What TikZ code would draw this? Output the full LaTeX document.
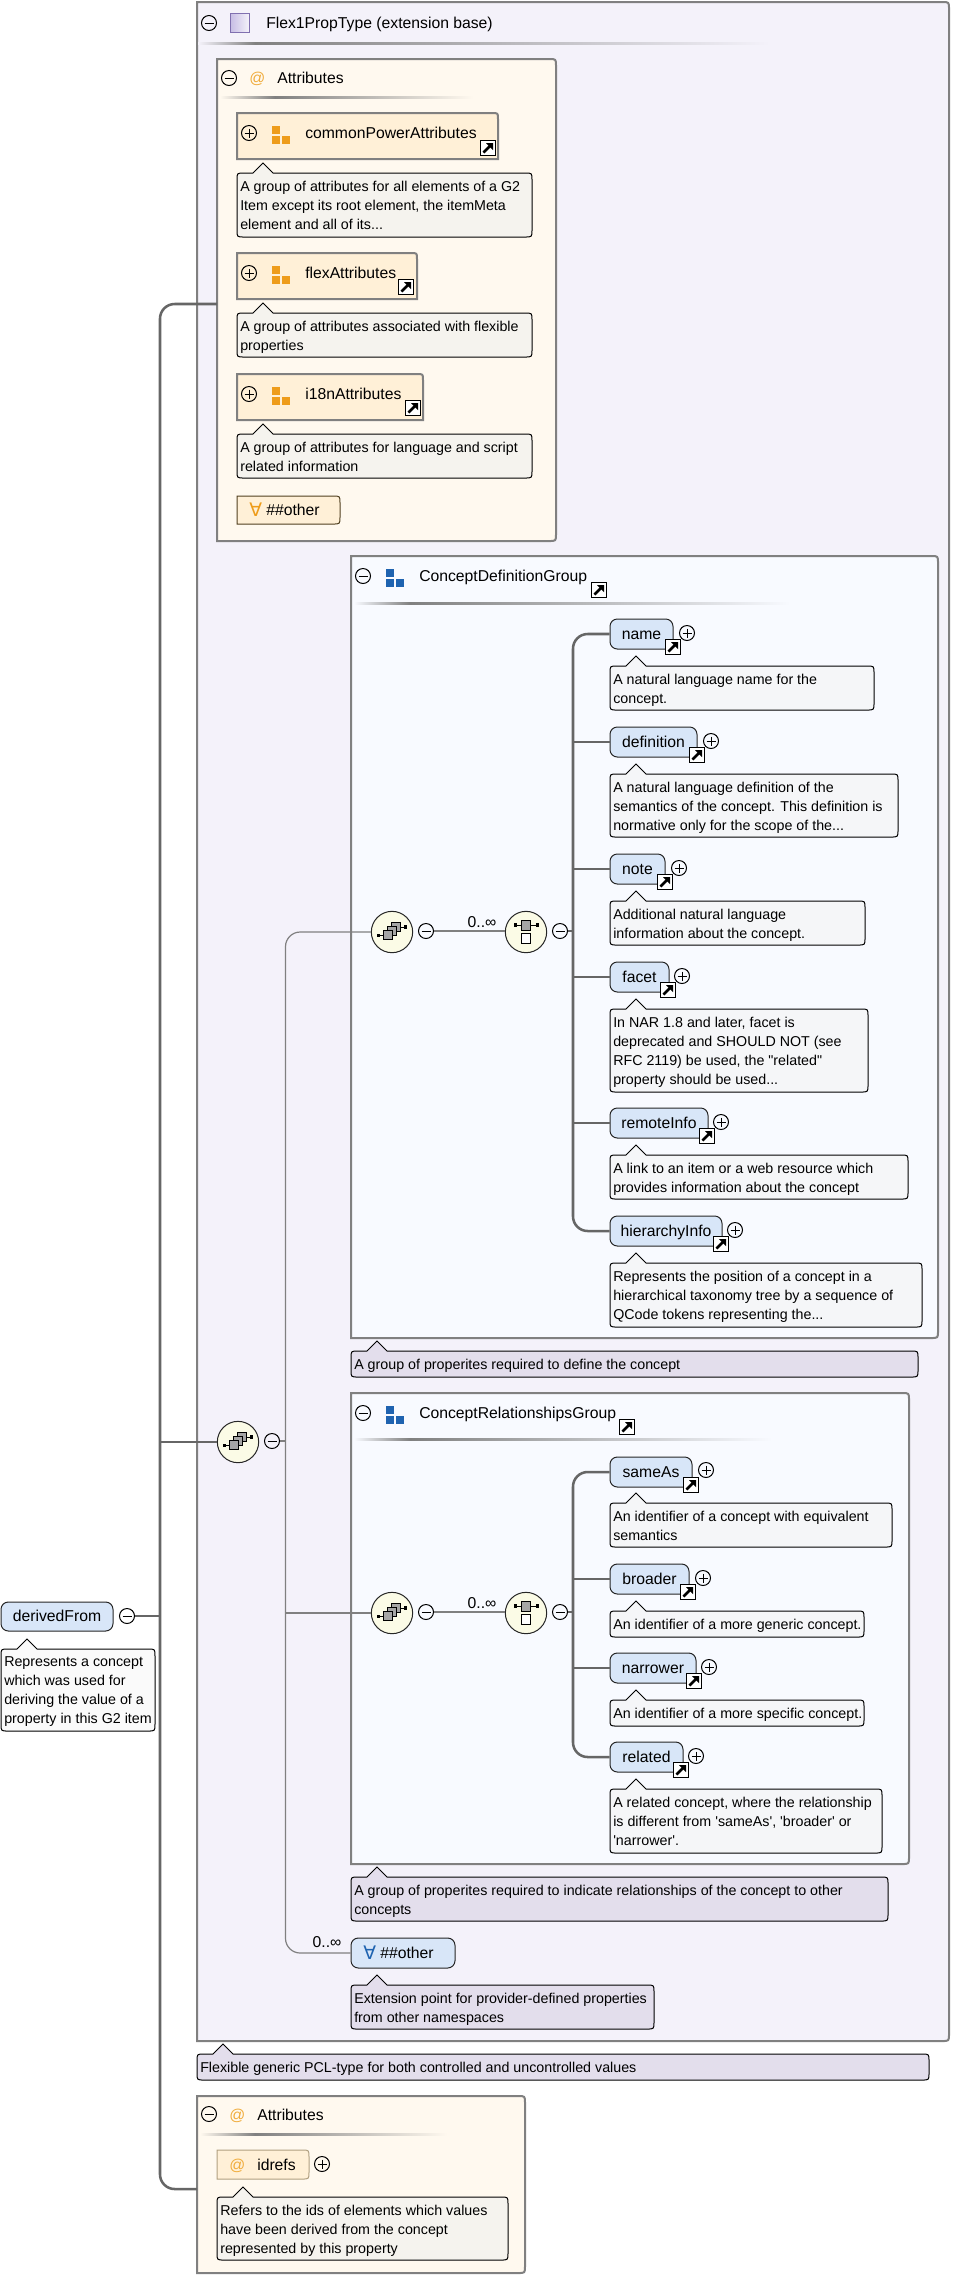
\documentclass[tikz,border=0pt]{standalone}
\usepackage{fontspec}
\usetikzlibrary{fit}
\newfontfamily\lib{Liberation Sans}
\newfontfamily\symf{DejaVu Sans}
\definecolor{bordergray}{HTML}{808080}
\definecolor{busgray}{HTML}{666666}
\definecolor{outerfill}{HTML}{F4F2FA}
\definecolor{attrfill}{HTML}{FFF9EF}
\definecolor{groupfill}{HTML}{F8FAFF}
\definecolor{elemfill}{HTML}{D8E6F8}
\definecolor{attelem}{HTML}{FFF0D7}
\definecolor{annA}{HTML}{F5F3EE}
\definecolor{annB}{HTML}{F5F6F8}
\definecolor{annP}{HTML}{E3DEEC}
\definecolor{annW}{HTML}{FAFAFA}
\definecolor{orangeicon}{HTML}{EE9C1A}
\definecolor{atcol}{HTML}{F0AC3C}
\definecolor{blueicon}{HTML}{1F63B0}
\definecolor{compfill}{HTML}{FBFBE6}
\definecolor{glyphgray}{HTML}{A6A6A6}
\definecolor{typeA}{HTML}{C6BCE4}
\definecolor{typeB}{HTML}{F4F2FA}
\definecolor{typeline}{HTML}{8070B0}
\definecolor{idline}{HTML}{B0A080}
\definecolor{othline}{HTML}{504020}
\tikzset{
  lbl/.style={font=\lib\fontsize{11.8}{14}\selectfont,inner sep=0pt,text height=10.4pt,text depth=2.4pt,text=black},
  framebox/.style={draw=bordergray,line width=1.5pt},
  annottext/.style={font=\lib\fontsize{10.7}{14.25}\selectfont,align=left,inner sep=0pt,text=black},
  annotshape/.style={draw=black,line width=.75pt},
  elembox/.style={lbl,draw=black!85,line width=.75pt,fill=elemfill,rounded corners=5.5pt},
  btnshape/.style={draw=black,line width=.75pt,circle,inner sep=0pt,minimum size=11.25pt},
  bus/.style={draw=busgray,line width=1.9pt},
  thinline/.style={draw=bordergray,line width=.9pt},
  comp/.style={draw=black!85,line width=.75pt,circle,inner sep=0pt,minimum size=31pt,fill=compfill},
  forall/.style={font=\symf\fontsize{14}{14}\selectfont,inner sep=0pt,anchor=west},
}
% right-rounded box
\newcommand\rbox[7]{% style,name,x1,y1,x2,y2,radius
  \draw[#1] (#3,#4) -- ({#5-#7},#4) .. controls (#5,#4) .. (#5,{#4+#7}) -- (#5,{#6-#7}) .. controls (#5,#6) .. ({#5-#7},#6) -- (#3,#6) -- cycle;
  \node[fit={(#3,#4)(#5,#6)},inner sep=0pt] (#2) {};}
% top-right-rounded box
\newcommand\tbox[7]{%
  \draw[#1] (#3,#4) -- ({#5-#7},#4) .. controls (#5,#4) .. (#5,{#4+#7}) -- (#5,#6) -- (#3,#6) -- cycle;
  \node[fit={(#3,#4)(#5,#6)},inner sep=0pt] (#2) {};}
\newcommand\annot[7]{% fill,name,x1,y1,x2,y2,lines
  \draw[annotshape,fill=#1] ({#3+36},#4) -- ({#5-7},#4) .. controls (#5,#4) .. (#5,{#4+7}) -- (#5,{#6-7}) .. controls (#5,#6) .. ({#5-7},#6) -- ({#3+7},#6) .. controls (#3,#6) .. (#3,{#6-7}) -- (#3,{#4+7}) .. controls (#3,#4) .. ({#3+7},#4) -- ({#3+16},#4) -- ({#3+26},{#4-10}) -- cycle;
  \node[annottext,anchor=north west] (#2) at ({#3+3},{#4+7.7}) {#7};}
\newcommand\elem[6]{% name,x1,y1,x2,y2,text
  \node[elembox,inner sep=0pt,minimum width={(#4-#2)*.75pt},minimum height={(#5-#3)*.75pt}] (#1) at ({(#2+#4)/2},{(#3+#5)/2}) {#6};}
\newcommand\mbtn[3]{\node[btnshape] (#1) at (#2,#3) {};
  \draw[line width=.75pt] ({#2-4.5},#3) -- ({#2+4.5},#3);}
\newcommand\pbtn[3]{\node[btnshape] (#1) at (#2,#3) {};
  \draw[line width=.75pt] ({#2-4.5},#3) -- ({#2+4.5},#3) ({#2},{#3-4.5}) -- ({#2},{#3+4.5});}
\newcommand\linkicon[2]{% top-left x,y
  \draw[fill=white,line width=.75pt] (#1,#2) rectangle ({#1+15},{#2+15});
  \fill[black] ({#1+6},{#2+3}) -- ({#1+13},{#2+3}) -- ({#1+13},{#2+10}) -- cycle;
  \draw[line width=2pt] ({#1+10},{#2+6}) -- ({#1+3.5},{#2+12.5});}
\newcommand\gicon[3]{% colour,x,y
  \fill[#1] (#2,#3) rectangle ({#2+8},{#3+8});
  \fill[#1] (#2,{#3+10}) rectangle ({#2+8},{#3+18});
  \fill[#1] ({#2+10},{#3+10}) rectangle ({#2+18},{#3+18});}
\newcommand\sepline[5]{% y,x1,xdark,x2,bg
  \shade[left color=#5,right color=bordergray] (#2,{#1-1}) rectangle (#3,{#1+1});
  \shade[left color=bordergray,right color=#5] (#3,{#1-1}) rectangle (#4,{#1+1});}
\newcommand\choicec[3]{%
  \node[comp] (#1) at (#2,#3) {};
  \begin{scope}[shift={(#2,#3)}]
  \draw[line width=.75pt] (-13.7,3.3) -- (-8,3.3) (8,-5) -- (13.3,-5);
  \fill (-15.5,1.5) rectangle (-12,5); \fill (11.7,-6.8) rectangle (15.2,-3.2);
  \draw[fill=glyphgray,line width=.6pt] (-.7,-9.7) rectangle (8.7,-.3);
  \draw[fill=glyphgray,line width=.6pt] (-4.7,-5.7) rectangle (4.7,3.7);
  \draw[fill=glyphgray,line width=.6pt] (-8.7,-1.7) rectangle (.7,7.7);
  \end{scope}}
\newcommand\seqc[3]{%
  \node[comp] (#1) at (#2,#3) {};
  \begin{scope}[shift={(#2,#3)}]
  \draw[line width=.75pt] (-10.7,-7) -- (11.3,-7);
  \fill (-12.5,-8.8) rectangle (-9,-5.2); \fill (9.5,-8.8) rectangle (13,-5.2);
  \draw[fill=glyphgray,line width=.6pt] (-4.7,-11.5) rectangle (4.7,-2);
  \draw[fill=white,line width=.6pt] (-4.7,1.5) rectangle (4.7,11);
  \end{scope}}
\begin{document}
\begin{tikzpicture}[x=.75pt,y=-.75pt]
\useasboundingbox (0,0) rectangle (974,2275);
\fill[white] (0,0) rectangle (974,2275);

% ---- outer extension base
\rbox{framebox,fill=outerfill}{outer}{197}{2}{949}{2041}{7}
\mbtn{outerm}{209}{23}
\shade[left color=typeA,right color=typeB] (230,13) rectangle (249,32);
\draw[draw=typeline,line width=.6pt] (230,13) rectangle (249,32);
\node[lbl,anchor=west] (outert) at (266,23) {Flex1PropType (extension base)};
\sepline{43}{198}{255}{770}{outerfill}

% ---- Attributes (inner)
\rbox{framebox,fill=attrfill}{attrA}{217}{59}{556}{541}{7}
\mbtn{attrAm}{229}{78}
\node[lbl,anchor=west,text=atcol] (attrAat) at (249,78) {@};
\node[lbl,anchor=west] (attrAt) at (277,78) {Attributes};
\sepline{97}{220}{275}{473}{attrfill}

\tbox{framebox,fill=attelem}{cpa}{237}{113}{498}{159}{6}
\pbtn{cpap}{249}{133}
\gicon{orangeicon}{272}{126}
\node[lbl,anchor=west] (cpat) at (305,133) {commonPowerAttributes};
\linkicon{480}{140}
\annot{annA}{cpan}{237}{173}{532}{237}{A group of attributes for all elements of a G2\\Item except its root element, the itemMeta\\element and all of its...}

\tbox{framebox,fill=attelem}{fla}{237}{253}{417}{299}{6}
\pbtn{flap}{249}{273}
\gicon{orangeicon}{272}{266}
\node[lbl,anchor=west] (flat) at (305,273) {flexAttributes};
\linkicon{398}{279}
\annot{annA}{flan}{237}{313}{532}{357}{A group of attributes associated with flexible\\properties}

\tbox{framebox,fill=attelem}{i18}{237}{374}{423}{420}{6}
\pbtn{i18p}{249}{394}
\gicon{orangeicon}{272}{387}
\node[lbl,anchor=west] (i18t) at (305,394) {i18nAttributes};
\linkicon{405}{400}
\annot{annA}{i18an}{237}{434}{532}{478}{A group of attributes for language and script\\related information}

\rbox{draw=othline,line width=.75pt,fill=attelem}{othA}{237}{496}{340}{524}{7}
\node[forall,text=orangeicon] (othAs) at (249,510) {∀};
\node[lbl,anchor=west] (othAt) at (266,510) {\#\#other};

% ---- ConceptDefinitionGroup
\rbox{framebox,fill=groupfill}{cdg}{351}{556}{938}{1338}{7}
\mbtn{cdgm}{363}{576}
\gicon{blueicon}{386}{569}
\node[lbl,anchor=west] (cdgt) at (419,576) {ConceptDefinitionGroup};
\linkicon{591}{582}
\sepline{603}{354}{410}{790}{groupfill}

\elem{name}{610}{619}{673}{649}{name}
\pbtn{namep}{687}{633}\linkicon{665}{639}
\annot{annB}{namean}{610}{666}{874}{710}{A natural language name for the\\concept.}
\elem{defn}{610}{727}{697}{757}{definition}
\pbtn{defnp}{711}{741}\linkicon{689}{747}
\annot{annB}{defnan}{610}{774}{898}{837}{A natural language definition of the\\semantics of the concept. This definition is\\normative only for the scope of the...}
\elem{note}{610}{854}{665}{884}{note}
\pbtn{notep}{679}{868}\linkicon{657}{874}
\annot{annB}{notean}{610}{901}{865}{945}{Additional natural language\\information about the concept.}
\elem{facet}{610}{962}{669}{992}{facet}
\pbtn{facetp}{682}{976}\linkicon{660}{982}
\annot{annB}{facetan}{610}{1009}{868}{1092}{In NAR 1.8 and later, facet is\\deprecated and SHOULD NOT (see\\RFC 2119) be used, the "related"\\property should be used...}
\elem{remote}{610}{1108}{708}{1138}{remoteInfo}
\pbtn{remotep}{721}{1122}\linkicon{699}{1128}
\annot{annB}{remotean}{610}{1155}{908}{1199}{A link to an item or a web resource which\\provides information about the concept}
\elem{hier}{610}{1216}{722}{1246}{hierarchyInfo}
\pbtn{hierp}{735}{1230}\linkicon{713}{1236}
\annot{annB}{hieran}{610}{1263}{922}{1327}{Represents the position of a concept in a\\hierarchical taxonomy tree by a sequence of\\QCode tokens representing the...}

\annot{annP}{cdgan}{351}{1351}{918}{1377}{A group of properites required to define the concept}

% ---- ConceptRelationshipsGroup
\rbox{framebox,fill=groupfill}{crg}{351}{1393}{909}{1864}{7}
\mbtn{crgm}{363}{1413}
\gicon{blueicon}{386}{1406}
\node[lbl,anchor=west] (crgt) at (419,1413) {ConceptRelationshipsGroup};
\linkicon{619}{1419}
\sepline{1439}{354}{410}{772}{groupfill}

\elem{same}{610}{1457}{692}{1487}{sameAs}
\pbtn{samep}{706}{1470}\linkicon{683}{1477}
\annot{annB}{samean}{610}{1503}{892}{1547}{An identifier of a concept with equivalent\\semantics}
\elem{broad}{610}{1564}{689}{1594}{broader}
\pbtn{broadp}{703}{1578}\linkicon{680}{1584}
\annot{annB}{broadan}{610}{1611}{864}{1637}{An identifier of a more generic concept.}
\elem{narrow}{610}{1653}{696}{1683}{narrower}
\pbtn{narrowp}{709}{1667}\linkicon{686}{1673}
\annot{annB}{narrowan}{610}{1700}{864}{1726}{An identifier of a more specific concept.}
\elem{related}{610}{1742}{683}{1772}{related}
\pbtn{relatedp}{696}{1756}\linkicon{673}{1762}
\annot{annB}{relatedan}{610}{1789}{882}{1853}{A related concept, where the relationship\\is different from 'sameAs', 'broader' or\\'narrower'.}

\annot{annP}{crgan}{351}{1877}{888}{1921}{A group of properites required to indicate relationships of the concept to other\\concepts}

% ---- ##other element
\elem{othB}{351}{1938}{455}{1968}{}
\node[forall,text=blueicon] (othBs) at (363,1953) {∀};
\node[lbl,anchor=west] (othBt) at (380,1953) {\#\#other};
\annot{annP}{othBan}{351}{1985}{654}{2029}{Extension point for provider-defined properties\\from other namespaces}
\node[lbl,anchor=center] (occC) at (327,1942) {0..∞};

% ---- annotation of extension base
\annot{annP}{outeran}{197}{2054}{929}{2080}{Flexible generic PCL-type for both controlled and uncontrolled values}

% ---- bottom Attributes
\rbox{framebox,fill=attrfill}{attrB}{197}{2096}{525}{2273}{7}
\mbtn{attrBm}{209}{2114}
\node[lbl,anchor=west,text=atcol] (attrBat) at (229,2115) {@};
\node[lbl,anchor=west] (attrBt) at (257,2115) {Attributes};
\sepline{2134}{200}{255}{447}{attrfill}
\rbox{draw=idline,line width=.75pt,fill=attelem}{idrefs}{217}{2150}{309}{2179}{7}
\node[lbl,anchor=west,text=atcol] (idrefsat) at (229,2165) {@};
\node[lbl,anchor=west] (idrefst) at (257,2165) {idrefs};
\pbtn{idrefsp}{322}{2164}
\annot{annA}{idrefsan}{217}{2197}{508}{2260}{Refers to the ids of elements which values\\have been derived from the concept\\represented by this property}

% ---- root element
\elem{df}{1}{1602}{113}{1631}{derivedFrom}
\mbtn{dfm}{127}{1616}
\annot{annW}{dfan}{1}{1649}{155}{1731}{Represents a concept\\which was used for\\deriving the value of a\\property in this G2 item}

% ---- compositors
\choicec{chM}{238}{1442}
\mbtn{chMm}{272}{1441}
\choicec{chA}{392}{932}
\mbtn{chAm}{426}{931}
\seqc{seqA}{526}{932}
\mbtn{seqAm}{560}{931}
\node[lbl,anchor=center] (occA) at (482,922) {0..∞};
\choicec{chB}{392}{1613}
\mbtn{chBm}{426}{1612}
\seqc{seqB}{526}{1613}
\mbtn{seqBm}{560}{1612}
\node[lbl,anchor=center] (occB) at (482,1603) {0..∞};

% ---- connectors
\coordinate (busM) at (160,1616);
\coordinate (inA) at (217,304);
\coordinate (inB) at (197,2189);
\draw[bus,rounded corners=11pt] (inA) -| (busM) |- (inB);
\draw[bus] (dfm.east) -- (busM);
\draw[bus] (chM.west) -- (chM.west -| busM);
\coordinate (tj) at (285.5,1441);
\draw[thinline,rounded corners=11pt] (chA.west) -| (tj) |- (othB.west);
\draw[thinline] (chMm.east) -- (tj);
\draw[thinline] (chB.west) -- (chB.west -| tj);
\draw[thinline] (chAm.east) -- (chAm.east -| seqA.west);
\draw[thinline] (chBm.east) -- (chBm.east -| seqB.west);
\coordinate (busA) at (573,931);
\draw[bus,rounded corners=11pt] (name.west) -| (busA) |- (hier.west);
\foreach \n in {defn,note,facet,remote} \draw[bus] (\n.west) -- (\n.west -| busA);
\draw[bus] (seqAm.east) -- (busA);
\coordinate (busB) at (573,1612);
\draw[bus,rounded corners=11pt] (same.west) -| (busB) |- (related.west);
\foreach \n in {broad,narrow} \draw[bus] (\n.west) -- (\n.west -| busB);
\draw[bus] (seqBm.east) -- (busB);
\end{tikzpicture}
\end{document}
